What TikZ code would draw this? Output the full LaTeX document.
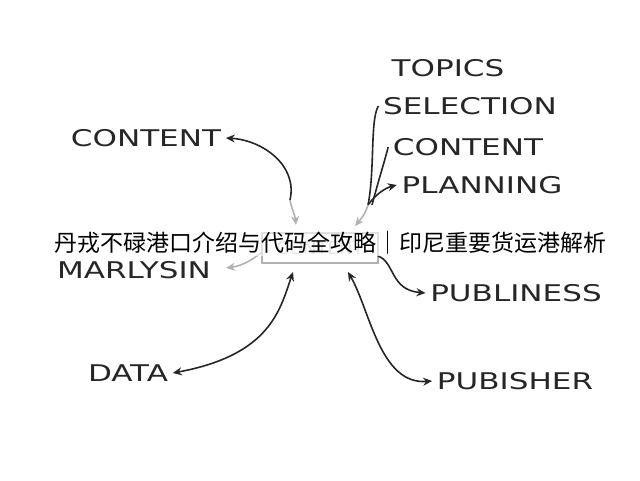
\documentclass[tikz,border=0pt]{standalone}
\usepackage{fontspec}
\setmainfont{DejaVu Sans}
\newfontfamily\cjk{Noto Sans CJK SC}
\usetikzlibrary{arrows.meta}
\tikzset{
  word/.style={font=\fontsize{23}{23}\selectfont, text=black!85, xscale=1.35},
  link/.style={line width=1.6pt, color=black!85},
  pale/.style={line width=1.6pt, color=black!30},
  tip/.style={-{Stealth[length=9pt,width=8pt]}}
}
\begin{document}
\begin{tikzpicture}[x=1pt,y=-1pt]
		\useasboundingbox (0,0) rectangle (640,480);
		
		% Centre box
		\node[draw=black!30, line width=1.2pt, minimum width=116pt, minimum height=30pt, text=black!25, font=\fontsize{18}{18}\selectfont] (hub) at (320,248) {CONTENT};
		
		% Words
		\node[word] (topics) at (448,68) {TOPICS};
		\node[word] (select) at (470,106) {SELECTION};
		\node[word] (content) at (468,147) {CONTENT};
		\node[word] (plan) at (482,185) {PLANNING};
		\node[word] (left) at (146,138) {CONTENT};
		\node[word] (marl) at (134,270) {MARLYSIN};
		\node[word] (publ) at (516,293) {PUBLINESS};
		\node[word] (data) at (128,373) {DATA};
		\node[word] (pubi) at (515,381) {PUBISHER};
		
		% Free ends
		\coordinate (ht) at (296,225);
		\coordinate (hr) at (355,226);
		\coordinate (hl) at (262,252);
		\coordinate (hb) at (378,256);
		\coordinate (hd) at (293,272);
		\coordinate (hp) at (348,272);
		
		% Arrows
		\draw[link, tip] (290,200) .. controls (298,165) and (262,140) .. (left.east);
		\draw[pale, tip] (290,200) .. controls (292,210) and (295,215) .. (ht);
		\draw[link] (368,205) .. controls (375,170) and (370,120) .. (select.west);
		\draw[link] (372,205) .. controls (380,175) and (385,160) .. (content.west);
		\draw[link, tip] (368,205) .. controls (375,195) and (385,188) .. (plan.west);
		\draw[pale, tip] (368,205) .. controls (365,215) and (360,220) .. (hr);
		\draw[pale, tip] (hl) .. controls (250,262) and (240,266) .. (226,268);
		\draw[link, tip] (hb) .. controls (395,262) and (390,290) .. (publ.west);
		\draw[link, {Stealth[length=9pt,width=8pt]}-{Stealth[length=9pt,width=8pt]}] (hd) .. controls (280,310) and (270,355) .. (data.east);
		\draw[link, {Stealth[length=9pt,width=8pt]}-{Stealth[length=9pt,width=8pt]}] (hp) .. controls (370,310) and (380,385) .. (pubi.west);
		
		% Title
		\node[font=\cjk\fontsize{23}{23}\selectfont, fill=white, fill opacity=.6, text opacity=1, inner sep=1pt] (title) at (330,243) {丹戎不碌港口介绍与代码全攻略｜印尼重要货运港解析};
\end{tikzpicture}
\end{document}
